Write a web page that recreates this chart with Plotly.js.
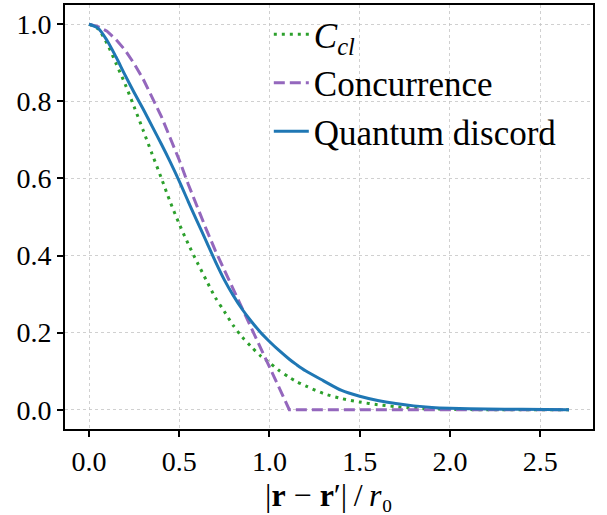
<!DOCTYPE html>
<html>
<head>
<meta charset="utf-8">
<script src="https://cdn.plot.ly/plotly-3.0.1.min.js"></script>
<style>html,body{margin:0;padding:0;background:#fff;}#chart{width:607px;height:515px;}</style>
</head>
<body>
<div id="chart"></div>
<script>
// distance |r - r'| / r0
const xVals = [0, 0.05, 0.1, 0.15, 0.2, 0.25, 0.3, 0.35, 0.4, 0.45, 0.5, 0.55, 0.6, 0.65, 0.7, 0.75, 0.8, 0.85, 0.9, 0.95, 1.0, 1.05, 1.11, 1.15, 1.2, 1.3, 1.4, 1.5, 1.6, 1.7, 1.8, 1.9, 2.0, 2.2, 2.4, 2.66];
const classicalCorr = [1.0, 0.988, 0.950, 0.898, 0.845, 0.786, 0.725, 0.663, 0.602, 0.539, 0.482, 0.430, 0.382, 0.336, 0.291, 0.255, 0.218, 0.188, 0.163, 0.140, 0.122, 0.103, 0.084, 0.073, 0.062, 0.042, 0.029, 0.020, 0.013, 0.008, 0.004, 0.002, 0.001, 0.0, 0.0, 0.0];
const concurrence = [1.0, 0.994, 0.982, 0.960, 0.933, 0.898, 0.858, 0.811, 0.762, 0.705, 0.648, 0.585, 0.525, 0.468, 0.413, 0.362, 0.311, 0.261, 0.211, 0.161, 0.111, 0.061, 0.0, 0.0, 0.0, 0.0, 0.0, 0.0, 0.0, 0.0, 0.0, 0.0, 0.0, 0.0, 0.0, 0.0];
const quantumDiscord = [1.0, 0.990, 0.958, 0.915, 0.868, 0.823, 0.780, 0.735, 0.690, 0.643, 0.593, 0.540, 0.488, 0.437, 0.385, 0.337, 0.296, 0.260, 0.229, 0.201, 0.177, 0.155, 0.131, 0.117, 0.101, 0.075, 0.050, 0.035, 0.024, 0.016, 0.010, 0.006, 0.004, 0.002, 0.001, 0.0];
const seriesNames = ["<i>C</i><sub><i>cl</i></sub>", "Concurrence", "Quantum discord"];
const xTitle = "|<b>r</b> − <b>r</b>′|\u2009/\u2009<i>r</i>\u2080";
const xTicks = [0, 0.5, 1.0, 1.5, 2.0, 2.5];
const yTicks = [0, 0.2, 0.4, 0.6, 0.8, 1.0];

const FONT = "Liberation Serif";

const traces = [
  {x: xVals, y: classicalCorr, name: seriesNames[0], mode: "lines",
   line: {color: "#2ca02c", width: 3, dash: "3px,5px", shape: "spline", smoothing: 0.8}},
  {x: xVals, y: concurrence, name: seriesNames[1], mode: "lines",
   line: {color: "#9467bd", width: 3, dash: "11px,5px"}},
  {x: xVals, y: quantumDiscord, name: seriesNames[2], mode: "lines",
   line: {color: "#1f77b4", width: 3, shape: "spline", smoothing: 0.8}}
];

const axisCommon = {
  showline: true, linecolor: "#000", linewidth: 2, mirror: true,
  ticks: "outside", ticklen: 6, tickwidth: 2, tickcolor: "#000",
  showgrid: true, gridcolor: "#c4c4c4", gridwidth: 0.8, griddash: "dot",
  zeroline: false, tickformat: ".1f",
  tickfont: {family: FONT, size: 28, color: "#000"}
};

const layout = {
  width: 607, height: 515,
  margin: {l: 65, r: 14, t: 5, b: 86},
  paper_bgcolor: "#fff", plot_bgcolor: "#fff",
  font: {family: FONT, color: "#000"},
  showlegend: true,
  legend: {x: 0.386, y: 1.0, xanchor: "left", yanchor: "top",
           bgcolor: "rgba(0,0,0,0)", borderwidth: 0, itemwidth: 35,
           font: {family: FONT, size: 35, color: "#000"}, tracegroupgap: 0},
  xaxis: Object.assign({}, axisCommon, {
    range: [-0.133, 2.793], tickvals: xTicks
  }),
  yaxis: Object.assign({}, axisCommon, {
    range: [-0.05, 1.05], tickvals: yTicks
  }),
  annotations: [{
    text: xTitle, xref: "paper", yref: "paper", x: 0.5, y: -0.108,
    xanchor: "center", yanchor: "top", showarrow: false,
    font: {family: FONT, size: 32, color: "#000"}
  }]
};

Plotly.newPlot("chart", traces, layout, {displayModeBar: false, staticPlot: true});
</script>
</body>
</html>
